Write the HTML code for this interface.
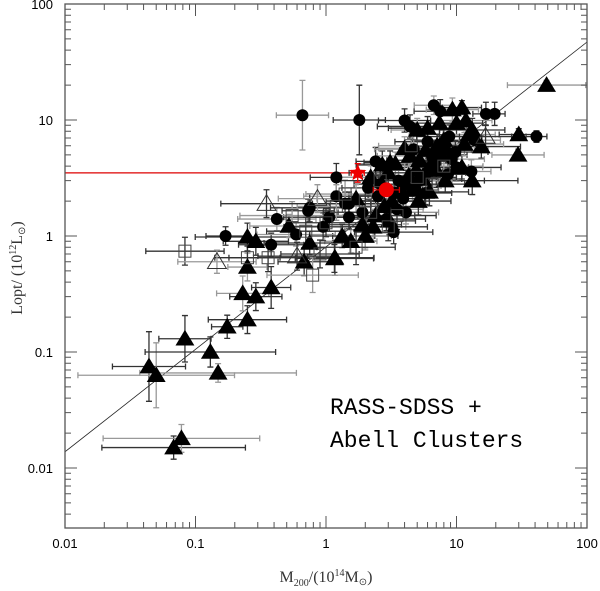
<!DOCTYPE html>
<html><head><meta charset="utf-8"><style>
html,body{margin:0;padding:0;background:#fff;}
svg{display:block;}
</style></head><body>
<svg id="chart" width="600" height="591" viewBox="0 0 600 591" xmlns="http://www.w3.org/2000/svg">
<g id="bars"></g>
<g id="marks"></g>
<g id="axes"></g>
<text x="330" y="414" font-family="Liberation Mono, monospace" font-size="23" fill="#000">RASS-SDSS +</text>
<text x="330" y="447" font-family="Liberation Mono, monospace" font-size="23" fill="#000">Abell Clusters</text>
<text x="326" y="582" text-anchor="middle" font-family="Liberation Serif, serif" font-size="16" fill="#333">M<tspan font-size="10" dy="4">200</tspan><tspan dy="-4">/(10</tspan><tspan font-size="10" dy="-6">14</tspan><tspan dy="6">M</tspan><tspan font-size="10" dy="3">⊙</tspan><tspan dy="-3">)</tspan></text>
<text transform="translate(22,268) rotate(-90)" text-anchor="middle" font-family="Liberation Serif, serif" font-size="16" fill="#333">Lopt/ (10<tspan font-size="10" dy="-6">12</tspan><tspan dy="6">L</tspan><tspan font-size="10" dy="3">⊙</tspan><tspan dy="-3">)</tspan></text>
</svg>
<script>
// data
const xMass = [0.66,1.8,0.044,0.05,0.083,0.13,0.149,0.175,0.25,0.23,0.29,0.38,0.25,0.68,0.068,0.078,0.25,0.29,0.52,1.17,0.17,0.42,0.38,0.73,
49,30,41,29.6,16.8,19.6,6.7,7.5,11,9.3,4.0,4.4,5.0,6.0,7.4,11.8,13.2,15.5,13,13.2,1.2,4.1,3.3,1.16,1.55,2.0,3.06,4,5.8,8,8.2,7,4.9,3.4,2.7,2.4,4.6,5.8,8.2,10,11,8.8,13.7,10,1.9,2.3,1.5,5.2,6.5,7.4,4.1,5.2,3.4,6.2,0.59,0.75,0.95,1.2,0.75,1.33,2.0,1.06,1.5,
2.2,2.6,3.0,3.6,4.3,5.5,6.8,2.5,3.2,4.8,5.9,7.6,9.2,2.8,3.9,4.4,6.2,2.1,1.7,1.4,2.4,3.5,5.1,8.6,11.5,6.0,3.1,4.7,7.1,9.8,12.5,2.9,1.9,3.7,
0.083,0.36,0.79,0.25,1.0,1.4,2.2,3.5,0.55,2.6,5,8,1.7,0.9,4.5,6.5,2.0,1.2,3.0,0.7,
0.146,0.35,0.6,0.86,16.7];
const yLum = [11,10,0.075,0.063,0.13,0.1,0.066,0.165,0.19,0.32,0.3,0.36,0.54,0.6,0.015,0.018,0.98,0.9,1.22,0.65,1.0,1.4,0.84,1.65,
20,7.5,7.2,5.0,11.3,11.3,13.4,11.9,12.8,12.3,9.9,8.8,8.2,8.5,9.4,9.9,8.2,5.9,3.6,3.0,3.2,1.6,1.08,0.64,0.9,1.0,1.35,5.7,5.5,6.7,5.5,3.7,3.7,4.2,4.1,4.4,2.5,2.35,3.0,3.9,3.9,7.2,6.7,9.4,1.6,1.2,1.9,4.5,4.8,5.9,2.8,3.0,2.35,3.9,1.03,0.87,1.2,2.2,1.75,1.0,1.0,1.45,1.45,
3.2,2.8,3.5,3.0,3.3,3.1,4.2,2.2,2.0,2.7,3.5,5.0,4.6,1.8,2.1,4.9,2.4,2.6,2.1,1.9,1.5,1.7,2.0,3.4,6.2,6.5,4.3,5.6,6.0,5.3,7.5,1.4,1.25,2.5,
0.74,0.65,0.46,0.65,1.3,2.3,1.6,1.5,1.5,3.0,3.2,4,0.8,0.7,6,2.8,2.0,1.8,1.2,1.1,
0.6,1.9,0.67,2.1,7.2];
const kind = ['c','c','t','t','t','t','t','t','t','t','t','t','t','t','t','t','t','t','t','t','c','c','c','c',
't','t','c','t','c','c','c','c','t','t','c','c','t','t','t','t','t','t','c','t','c','c','c','t','t','t','t','t','t','t','c','t','t','t','t','c','t','c','t','c','t','c','c','t','c','t','c','t','c','t','t','c','c','t','c','t','c','c','c','t','t','c','c',
't','c','t','c','t','t','c','c','t','t','c','t','c','t','c','t','t','c','t','c','t','c','t','c','t','c','t','c','t','c','t','c','t','t',
's','s','s','s','s','s','s','s','s','s','s','s','s','s','s','s','s','s','s','s',
'o','o','o','o','o'];
const xErrDex = [0.2,0.2,0.28,0.6,0.2,0.5,0.6,0.12,0.3,0.2,0.2,0.15,0.15,0.2,0.55,0.6,0.4,0.25,0.3,0.3,0.15,0.3,0.25,0.2,
0.3,0.15,0.08,0.2,0.1,0.08,0.15,0.2,0.15,0.2,0.2,0.25,0.2,0.3,0.25,0.2,0.25,0.3,0.15,0.35,0.2,0.25,0.3,0.3,0.2,0.25,0.2,0.2,0.2,0.25,0.2,0.2,0.25,0.3,0.2,0.15,0.2,0.2,0.3,0.2,0.3,0.25,0.2,0.2,0.3,0.25,0.3,0.25,0.2,0.2,0.3,0.25,0.2,0.3,0.3,0.35,0.3,0.25,0.3,0.25,0.2,0.35,0.3,
0.25,0.2,0.3,0.2,0.25,0.3,0.2,0.3,0.25,0.2,0.3,0.2,0.25,0.3,0.2,0.25,0.3,0.2,0.3,0.25,0.3,0.2,0.25,0.2,0.3,0.25,0.2,0.3,0.2,0.25,0.2,0.3,0.3,0.25,
0.3,0.3,0.35,0.25,0.3,0.3,0.25,0.3,0.4,0.3,0.3,0.3,0.3,0.3,0.25,0.25,0.3,0.3,0.3,0.3,
0.3,0.35,0.3,0.3,0.2];
const yErrDex = [0.3,0.3,0.3,0.28,0.2,0.13,0.08,0.1,0.12,0.15,0.12,0.18,0.12,0.12,0.1,0.12,0.12,0.12,0.1,0.15,0.08,0.1,0.1,0.1,
0.04,0.05,0.05,0.05,0.1,0.1,0.08,0.1,0.06,0.1,0.1,0.1,0.1,0.1,0.1,0.1,0.1,0.1,0.1,0.12,0.12,0.1,0.1,0.12,0.1,0.1,0.12,0.1,0.12,0.1,0.1,0.15,0.1,0.1,0.12,0.12,0.1,0.1,0.1,0.12,0.1,0.1,0.1,0.1,0.1,0.12,0.1,0.1,0.1,0.1,0.12,0.1,0.12,0.12,0.1,0.1,0.12,0.1,0.12,0.1,0.12,0.12,0.1,
0.1,0.12,0.1,0.12,0.1,0.12,0.1,0.12,0.1,0.12,0.1,0.1,0.12,0.1,0.12,0.1,0.12,0.1,0.12,0.1,0.12,0.1,0.12,0.1,0.1,0.12,0.1,0.12,0.1,0.1,0.12,0.1,0.12,0.1,
0.12,0.12,0.15,0.1,0.12,0.12,0.1,0.12,0.12,0.12,0.1,0.1,0.15,0.12,0.1,0.12,0.12,0.12,0.12,0.12,
0.1,0.12,0.12,0.12,0.1];
const redStar = [1.75,3.5];
const redCircle = [2.9,2.5];
const fitLine = [[0.01,0.0138],[100,47]];
const xTickLabels = ['0.01','0.1','1','10','100'];
const yTickLabels = ['0.01','0.1','1','10','100'];

const X0=65, X1=587, Y0=4, Y1=528;
const xLogMin=-2, xLogMax=2, yLogMax=2, yDec=116;
function xs(v){return X0+(Math.log10(v)-xLogMin)/(xLogMax-xLogMin)*(X1-X0);}
function ys(v){return Y0+(yLogMax-Math.log10(v))*yDec;}
const NS='http://www.w3.org/2000/svg';
function mk(tag,attrs,parent){const e=document.createElementNS(NS,tag);for(const k in attrs)e.setAttribute(k,attrs[k]);parent.appendChild(e);return e;}
const gb=document.getElementById('bars'), gm=document.getElementById('marks'), ga=document.getElementById('axes');
const defs=mk('defs',{},document.getElementById('chart'));
const cp=mk('clipPath',{id:'pc'},defs); mk('rect',{x:X0,y:Y0,width:X1-X0,height:Y1-Y0},cp);
gb.setAttribute('clip-path','url(#pc)');gm.setAttribute('clip-path','url(#pc)');

const fl=mk('line',{x1:xs(fitLine[0][0]),y1:ys(fitLine[0][1]),x2:xs(fitLine[1][0]),y2:ys(fitLine[1][1]),stroke:'#222','stroke-width':0.8},gb);


const rl=mk('line',{x1:X0,y1:ys(redStar[1]),x2:xs(redStar[0]),y2:ys(redStar[1]),stroke:'#d00','stroke-width':1.2},gb);



function errbar(x,y,dx,dy,col,parent){
  const cx=xs(x),cy=ys(y);
  const xl=xs(x/Math.pow(10,dx)),xr=xs(x*Math.pow(10,dx));
  const yt=ys(y*Math.pow(10,dy)),yb=ys(y/Math.pow(10,dy));
  return mk('path',{d:`M${xl},${cy}H${xr}M${xl},${cy-3}V${cy+3}M${xr},${cy-3}V${cy+3}M${cx},${yt}V${yb}M${cx-3},${yt}H${cx+3}M${cx-3},${yb}H${cx+3}`,stroke:col,'stroke-width':1.3,fill:'none'},parent);
}
for(let i=0;i<xMass.length;i++){
  const col=(i%3===0)?'#999':'#333';
  const b=errbar(xMass[i],yLum[i],xErrDex[i],yErrDex[i],col,gb);
  
  
}
function tri(cx,cy,s){return `M${cx},${cy-s}L${cx+s*1.05},${cy+s*0.75}L${cx-s*1.05},${cy+s*0.75}Z`;}
for(let i=0;i<xMass.length;i++){
  const cx=xs(xMass[i]),cy=ys(yLum[i]);let m;
  if(kind[i]==='c') m=mk('circle',{cx:cx,cy:cy,r:6,fill:'#000'},gm);
  else if(kind[i]==='t') m=mk('path',{d:tri(cx,cy,9),fill:'#000'},gm);
  else if(kind[i]==='s') m=mk('rect',{x:cx-6,y:cy-6,width:12,height:12,fill:'none',stroke:'#444','stroke-width':1},gm);
  else m=mk('path',{d:tri(cx,cy,9),fill:'none',stroke:'#333','stroke-width':1},gm);
  
  
}
const rb1=errbar(redStar[0],redStar[1],0.05,0.08,'#e00',gm);


const rb2=errbar(redCircle[0],redCircle[1],0.1,0.04,'#c00',gm);


(function(){
  const cx=xs(redStar[0]),cy=ys(redStar[1]);let d='';
  for(let k=0;k<10;k++){const r=k%2?4:9;const a=-Math.PI/2+k*Math.PI/5;d+=(k?'L':'M')+(cx+r*Math.cos(a))+','+(cy+r*Math.sin(a));}
  const s=mk('path',{d:d+'Z',fill:'#e00'},gm);
  
  
  const c=mk('circle',{cx:xs(redCircle[0]),cy:ys(redCircle[1]),r:7.5,fill:'#e00'},gm);
  
  
})();

const fr=mk('rect',{x:X0,y:Y0,width:X1-X0,height:Y1-Y0,fill:'none',stroke:'#555','stroke-width':1.3},ga);


let td='';
for(let d=-2;d<2;d++){for(let m=1;m<10;m++){const v=m*Math.pow(10,d);const x=xs(v);const L=m===1?12:6;
  td+=`M${x},${Y1}V${Y1-L}M${x},${Y0}V${Y0+L}`;}}
td+=`M${X1},${Y1}V${Y1-12}M${X1},${Y0}V${Y0+12}`;
for(let d=-3;d<2;d++){for(let m=1;m<10;m++){const v=m*Math.pow(10,d);const y=ys(v);if(y>Y1+0.5||y<Y0-0.5)continue;const L=m===1?12:6;
  td+=`M${X0},${y}H${X0+L}M${X1},${y}H${X1-L}`;}}
td+=`M${X0},${Y0}H${X0+12}M${X1},${Y0}H${X1-12}`;
const tk=mk('path',{d:td,stroke:'#555','stroke-width':1,fill:'none'},ga);


xTickLabels.forEach((t)=>{
  const e=mk('text',{x:xs(parseFloat(t)),y:Y1+20,'text-anchor':'middle','font-family':'Liberation Sans, sans-serif','font-size':13,fill:'#000'},ga);
  e.textContent=t;
  
  
});
yTickLabels.forEach((t)=>{
  const e=mk('text',{x:X0-12,y:ys(parseFloat(t))+5,'text-anchor':'end','font-family':'Liberation Sans, sans-serif','font-size':13,fill:'#000'},ga);
  e.textContent=t;
  
  
});
</script>
</body></html>
